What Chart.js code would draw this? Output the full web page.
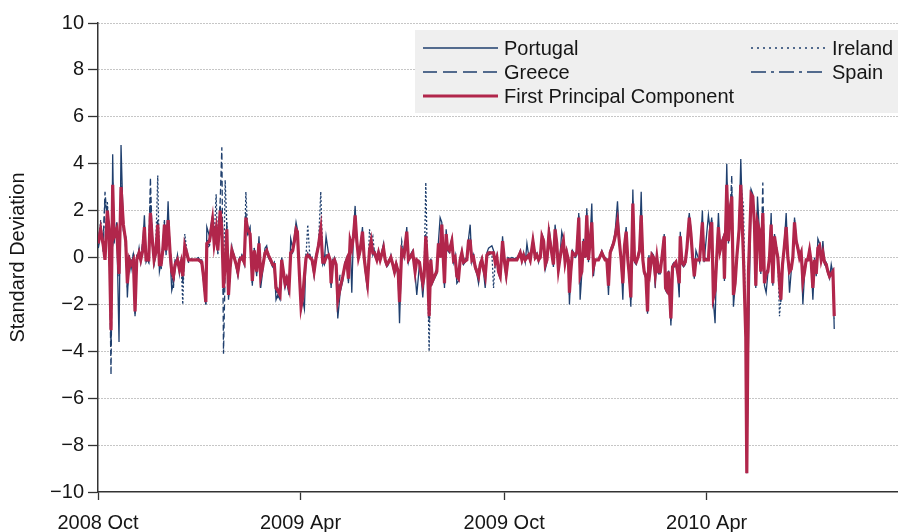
<!DOCTYPE html>
<html>
<head>
<meta charset="utf-8">
<script src="https://cdn.jsdelivr.net/npm/chart.js@4.4.1/dist/chart.umd.min.js"></script>
<style>
  html, body { margin: 0; padding: 0; background: #fff; }
  #wrap { width: 898px; height: 532px; }
</style>
</head>
<body>
<div id="wrap"><canvas id="sdChart" width="898" height="532"></canvas></div>
<script>
// days since 2008-10-01
var days = [
  0.3, 2.4, 4.8, 6.3, 8.4, 9.9, 11.7, 13.2, 14.4, 16.8,
  18.9, 20.7, 22.8, 24.9, 26.4, 28.2, 29.7, 31.8, 33.3, 34.8,
  36.9, 38.4, 40.2, 41.7, 43.2, 45.6, 47.1, 48.9, 50.4, 51.9,
  53.7, 55.2, 56.7, 58.2, 59.7, 61.2, 63.0, 64.8, 66.3, 67.8,
  69.3, 71.4, 73.2, 74.7, 76.2, 78.0, 79.8, 81.3, 85.8, 90.3,
  93.3, 94.8, 96.9, 97.8, 100.2, 102.9, 104.4, 106.2, 107.7, 109.8,
  111.3, 112.8, 114.3, 115.8, 117.3, 118.8, 120.3, 122.4, 124.2, 125.7,
  127.2, 129.3, 131.4, 132.9, 134.4, 136.7, 138.7, 140.5, 142.6, 144.7,
  146.2, 148.0, 150.1, 151.6, 153.1, 155.2, 157.0, 158.5, 160.0, 161.5,
  163.6, 165.1, 166.6, 168.1, 169.6, 171.7, 173.2, 175.0, 176.5, 178.0,
  179.2, 181.0, 182.5, 184.0, 185.5, 187.0, 188.5, 190.6, 192.4, 194.2,
  196.0, 198.1, 200.2, 202.0, 203.5, 205.0, 207.1, 208.6, 209.5, 211.0,
  212.5, 214.0, 215.5, 217.6, 220.0, 222.1, 223.6, 225.1, 226.6, 228.1,
  229.6, 231.1, 232.6, 234.1, 235.6, 237.7, 239.2, 240.7, 242.2, 244.0,
  245.5, 247.0, 248.5, 250.6, 252.1, 253.6, 256.6, 258.1, 259.6, 261.1,
  263.2, 265.0, 266.5, 268.0, 269.8, 271.0, 273.0, 275.1, 277.5, 279.0,
  280.5, 282.9, 285.0, 286.5, 288.9, 290.4, 291.9, 293.1, 294.6, 296.1,
  297.6, 299.1, 300.6, 302.4, 304.5, 306.0, 307.5, 309.0, 310.5, 311.4,
  312.9, 314.1, 315.9, 318.0, 319.5, 321.0, 322.5, 324.0, 325.5, 327.0,
  328.5, 331.5, 333.0, 334.5, 336.0, 337.5, 339.0, 340.5, 342.0, 343.5,
  345.0, 346.5, 348.0, 349.5, 351.0, 354.0, 355.5, 357.0, 358.5, 360.0,
  361.5, 363.6, 365.4, 366.9, 368.4, 372.0, 376.5, 379.5, 381.0, 382.5,
  384.0, 385.5, 387.0, 388.5, 390.9, 393.0, 394.5, 396.0, 397.5, 399.0,
  400.5, 402.0, 403.5, 405.3, 409.3, 410.8, 412.3, 413.8, 415.3, 416.8,
  418.3, 419.8, 421.3, 422.8, 423.7, 424.9, 426.4, 428.8, 430.3, 432.1,
  433.3, 434.8, 436.3, 437.8, 439.3, 440.8, 442.3, 443.8, 445.3, 446.8,
  449.8, 452.8, 455.8, 457.3, 458.8, 460.3, 461.8, 463.3, 464.8, 466.9,
  468.7, 470.2, 471.7, 473.2, 474.7, 476.2, 477.4, 478.9, 480.7, 482.2,
  483.7, 485.2, 486.7, 488.2, 489.7, 490.9, 492.4, 493.9, 495.1, 496.3,
  497.8, 499.3, 500.8, 502.3, 503.8, 505.3, 507.1, 508.9, 510.1, 511.3,
  512.8, 514.9, 516.4, 517.9, 519.4, 520.9, 522.4, 523.3, 524.8, 526.3,
  527.8, 529.3, 531.4, 532.9, 534.4, 535.9, 537.4, 540.7, 543.2, 544.7,
  548.6, 550.1, 551.6, 553.1, 554.6, 556.1, 557.6, 559.1, 560.6, 562.1,
  563.0, 565.1, 566.6, 568.1, 569.6, 571.1, 572.6, 574.1, 576.2, 577.7,
  580.1, 582.2, 583.1, 584.6, 587.0, 588.5, 590.0, 591.2, 592.7, 594.2,
  595.7, 597.5, 599.0, 600.5, 602.0, 603.5, 605.0, 606.5, 608.0, 609.5,
  611.0, 612.5, 613.7, 615.2, 616.7, 618.5, 620.0, 621.5, 623.0, 624.5,
  626.0, 627.5, 629.0, 630.5, 632.0, 633.5, 635.0, 636.5, 638.0, 639.5,
  641.0, 642.5, 644.0, 645.5, 647.0, 648.5, 650.0, 651.5, 653.0, 654.5,
  656.0, 657.5, 659.0, 660.5, 661.7
];

var firstPC = [
  0.6, 1.2, 0.5, -0.1, 2.0, 1.2, -3.1, 3.1, 0.9, 1.2,
  -0.7, 3.0, 1.4, 0.7, -1.1, -0.1, -0.3, -0.1, -2.3, -0.1,
  0.2, -0.1, 0.3, 1.3, -0.1, -0.1, 1.9, 0.7, -0.1, 0.2,
  1.4, -0.3, -0.3, 0.3, 1.4, 0.3, 1.6, 0.2, -0.6, -0.8,
  -0.3, -0.1, -0.5, -0.2, -0.8, 0.5, 0.2, -0.1, -0.1, -0.1,
  -0.2, -0.8, -1.9, 0.6, 0.7, 1.6, 0.6, 1.2, 0.3, 2.0,
  1.2, -1.3, -0.3, 1.2, -1.6, -0.4, 0.3, 0.0, -0.3, -0.6,
  -0.1, 0.0, -0.2, 1.7, 1.2, 1.0, -1.0, 0.3, -0.6, 0.6,
  -0.8, -0.4, 0.2, 0.3, 0.1, -0.1, -0.3, -0.3, -1.3, -1.4,
  -1.6, -0.1, -0.6, -1.1, -0.9, -1.3, 0.2, 0.3, 0.7, 1.2,
  1.1, -0.7, -2.1, -1.7, -0.8, 0.0, 0.1, 0.0, -0.1, -0.6,
  0.0, 0.5, 1.2, -0.2, -0.2, 0.0, 0.1, -0.1, -1.1, -0.2,
  -0.1, -0.3, -1.8, -1.3, -0.8, -0.3, -0.1, -0.9, 0.7, 0.4,
  0.9, 1.8, 0.7, 0.0, 0.3, 1.1, 0.0, -0.6, -1.1, 0.3,
  0.7, 0.2, 0.2, -0.1, 0.2, -0.1, 0.4, -0.1, -0.3, -0.2,
  0.0, -0.3, -0.6, -0.3, -0.6, -1.9, 0.3, 0.1, 1.1, -0.1,
  0.0, 0.2, -0.6, -0.1, -0.2, -0.7, -1.1, -0.8, 0.9, -0.3,
  -2.5, -0.1, -1.0, -0.8, -0.6, 0.6, 0.0, 1.4, -0.2, -1.1,
  1.0, 0.4, 0.3, 0.7, -0.1, 0.0, -0.8, -0.9, -0.1, 0.2,
  -0.2, -0.1, 0.7, 0.7, -0.1, 0.0, -0.4, -0.6, -0.8, -0.3,
  -0.1, -0.5, -0.8, 0.1, 0.2, 0.2, 0.2, -0.2, 0.0, -0.6,
  -0.8, 0.7, -0.2, -0.7, -0.1, -0.1, -0.1, 0.2, -0.1, 0.1,
  -0.1, 0.0, 0.1, -0.1, 0.7, 0.0, 0.1, -0.1, 0.0, 0.9,
  0.7, -0.3, -0.1, 1.0, -0.3, 1.2, 0.6, -0.5, 0.0, 0.4,
  0.7, -0.2, 0.2, -0.1, -1.5, -0.6, 0.2, 0.1, 0.2, 1.7,
  -0.8, -0.6, 0.7, 0.0, 1.8, -0.1, 0.7, 1.5, -0.4, -0.1,
  -0.1, 0.2, -0.1, -0.1, -1.2, 0.2, 0.4, 0.6, 0.9, 1.5,
  0.6, -0.1, -1.1, 0.5, 1.1, -0.1, -0.7, -1.7, 2.3, -0.1,
  -0.2, 0.0, 0.3, 1.8, -0.1, -0.6, -0.8, -2.3, 0.0, -0.5,
  0.1, 0.0, -0.7, 0.0, -0.6, -0.6, 0.1, 0.9, -1.3, -1.4,
  -0.6, -2.6, -0.4, -0.3, -0.2, -0.6, -1.1, 0.9, -0.2, -0.3,
  -0.2, 0.4, 1.7, 1.0, 0.0, -0.8, -0.1, -0.1, 1.5, -0.1,
  -0.1, 1.1, 1.5, -1.7, -1.4, 0.0, 1.3, 0.3, 0.6, 0.8,
  -0.9, 3.1, 0.7, 2.0, 2.6, -1.6, -1.1, 0.0, 1.2, 3.1,
  0.0, -3.4, -9.2, -0.6, 2.7, 2.6, 1.4, -1.2, 1.5, 1.2,
  -0.6, 1.9, -1.1, -0.7, -0.6, 0.0, 1.4, -1.1, 0.9, 0.4,
  0.0, -1.1, -1.8, -0.3, 0.4, 1.3, 0.0, -0.6, -0.5, 0.0,
  1.5, 0.7, 0.4, 0.0, 0.2, -1.0, -0.6, -0.1, -0.1, 0.3,
  -0.2, -1.3, -0.1, -0.7, 0.4, 0.5, -0.1, 0.2, -0.2, -0.3,
  -0.6, -0.8, -0.7, -0.6, -2.5
];

var portugal = [
  0.8, 1.4, 0.3, 0.2, 2.2, 0.9, -3.8, 4.4, 0.6, 1.5,
  -3.6, 4.8, 1.2, 0.9, -1.7, 0.1, -0.5, 0.2, -2.5, -0.3,
  0.4, -0.2, 0.5, 1.8, 0.0, -0.2, 2.1, 0.9, -0.3, 0.1,
  1.6, -0.6, -0.2, 0.5, 1.5, 0.1, 2.4, 0.0, -1.4, -1.1,
  -0.5, 0.1, -0.7, -0.1, -1.1, 0.4, 0.3, -0.1, -0.1, -0.1,
  -0.3, -1.0, -2.0, 1.3, 0.9, 1.8, 0.4, 1.4, 0.5, 2.2,
  1.4, -1.6, -0.1, 1.5, -1.8, -0.5, 0.4, 0.1, -0.4, -0.8,
  -0.2, 0.1, -0.3, 1.9, 1.0, 1.3, -1.2, 0.4, -0.8, 0.9,
  -1.3, -0.6, 0.4, 0.5, 0.0, -0.2, -0.4, -0.5, -1.8, -1.6,
  -1.8, 0.0, -0.8, -1.3, -1.0, -1.6, 0.8, 0.4, 0.9, 1.5,
  1.2, -0.9, -2.2, -1.8, -2.2, 0.1, 0.0, 0.1, -0.2, -0.8,
  0.1, 0.6, 1.4, -0.3, -0.1, 0.9, 0.2, -0.2, -1.3, -0.1,
  -0.2, -0.4, -2.6, -1.5, -1.0, -0.2, 0.0, -1.1, 0.9, -1.5,
  1.1, 2.2, 0.6, 0.1, 0.4, 1.3, -0.1, -0.8, -1.4, 0.4,
  0.8, 0.3, 0.1, -0.1, 0.3, -0.1, 0.6, -0.2, -0.4, -0.3,
  0.1, -0.4, -0.7, -0.4, -0.8, -2.8, 0.4, 0.0, 1.3, -0.2,
  0.1, 0.3, -0.7, -1.6, -0.3, -0.8, -1.7, -0.9, 1.0, -0.4,
  -2.7, -0.1, -1.1, -0.9, -0.7, 0.7, 1.7, 1.5, -0.3, -1.3,
  1.2, 0.5, 0.4, 0.8, -0.2, 0.1, -1.1, -1.0, -0.1, 0.3,
  -0.3, -0.1, 0.8, 1.4, -0.2, 0.1, -0.5, -0.7, -1.1, -0.4,
  -0.2, -0.6, -1.3, 0.2, 0.4, 0.5, 0.3, -0.3, 0.1, -0.7,
  -0.9, 0.9, -0.3, -0.9, -0.1, 0.0, -0.1, 0.3, -0.2, 0.2,
  -0.2, 0.6, 0.1, -0.2, 0.8, 0.1, 0.2, -0.2, 0.1, 1.0,
  0.8, -0.5, -0.2, 1.3, -0.4, 1.4, 0.7, -0.6, 0.1, 1.1,
  0.8, -0.3, 0.3, -0.2, -2.0, -0.7, 0.3, 0.1, 0.3, 1.9,
  -1.8, -0.7, 0.8, 0.1, 2.1, -0.2, 0.8, 2.3, -0.8, -0.1,
  -0.1, 0.3, -0.1, -0.1, -1.6, 0.3, 0.5, 0.7, 1.1, 2.4,
  0.7, -0.2, -1.8, 0.6, 1.3, -0.2, -0.8, -2.1, 2.9, -0.2,
  -0.3, 0.1, 0.4, 2.8, -0.2, -0.7, -0.9, -2.4, 0.1, -0.6,
  0.2, 0.1, -1.3, 0.1, -0.7, -0.7, 0.2, 1.0, -1.4, -1.5,
  -0.7, -2.9, -0.5, -0.4, -0.3, -0.7, -1.7, 1.1, -0.3, -0.4,
  -0.3, 0.5, 1.9, 1.2, 0.1, -0.9, 0.3, -0.2, 2.0, -0.2,
  1.8, 1.2, 1.7, -1.9, -2.8, 0.1, 1.9, 0.4, 0.7, 0.9,
  -1.0, 4.0, 0.8, 2.2, 2.8, -2.1, -1.2, 0.1, 1.3, 4.2,
  0.1, -3.5, -9.2, -3.6, 2.9, 2.7, 1.5, -1.3, 2.6, 1.3,
  -0.7, 2.1, -1.2, -1.5, -0.7, 0.1, 1.9, -1.2, 1.0, 0.5,
  0.1, -1.2, -1.9, -0.4, 0.5, 1.9, 0.1, -1.5, -0.6, 0.1,
  1.7, 0.8, 0.5, 0.1, 0.3, -2.0, -0.7, -0.2, -0.1, 0.4,
  -0.3, -1.8, -0.2, -0.8, 0.8, 0.6, -0.1, 0.7, -0.3, -0.4,
  -0.7, -0.9, -0.3, -0.7, -3.05
];

var greece = [
  0.4, 1.0, 0.8, 2.8, 1.6, 1.3, -5.0, 2.5, 1.1, 0.9,
  -0.4, 2.6, 1.6, 0.4, -0.9, -0.3, -0.1, -0.2, -2.0, 0.1,
  0.1, 0.0, 0.7, 1.1, -0.2, 0.1, 3.4, 0.5, 0.0, 0.3,
  1.2, -0.2, -0.4, 0.2, 1.6, 0.4, 1.4, 0.3, -0.5, -1.3,
  -0.2, -0.3, -0.4, -0.3, -0.6, 0.6, 0.1, -0.1, -0.1, -0.1,
  -0.1, -0.7, -1.7, 0.4, 0.5, 1.5, 0.8, 1.0, 0.2, 2.4,
  4.7, -4.1, -0.5, 1.0, -1.4, -0.3, 0.2, -0.1, -0.2, -0.5,
  0.0, -0.1, -0.1, 1.5, 1.4, 0.8, -0.9, 0.2, -0.5, 0.5,
  -0.7, -0.3, 0.1, 0.2, 0.2, -0.1, -0.2, -0.3, -1.2, -1.5,
  -1.5, -0.2, -0.5, -1.0, -0.8, -1.2, 0.1, 0.2, 0.6, 1.1,
  1.0, -0.6, -2.0, -1.6, -0.7, -0.1, 0.2, 0.0, -0.1, -0.5,
  -0.1, 0.4, 1.1, -0.1, -0.3, 0.1, 0.0, -0.1, -1.0, -0.3,
  0.0, -0.2, -1.6, -0.7, -0.7, -0.4, -0.2, -0.8, 0.6, 0.5,
  0.8, 1.7, 0.8, -0.1, 0.2, 1.0, 0.1, -0.5, -1.0, 0.2,
  0.6, 0.1, 0.3, 0.0, 0.1, 0.0, 0.3, -0.1, -0.2, -0.1,
  -0.1, -0.2, -0.5, -0.2, -0.5, -1.7, 0.7, 0.2, 1.0, 0.0,
  -0.1, 0.2, -0.5, -0.1, -0.2, -0.6, -1.0, -0.7, 0.8, -0.2,
  -2.3, 0.0, -0.9, -0.7, -0.5, 0.5, 0.2, 1.3, -0.1, -1.0,
  0.9, 0.3, 0.2, 0.6, 0.0, -0.1, -0.7, -0.8, -0.2, 0.1,
  -0.1, 0.0, 0.6, 0.6, 0.0, 0.0, -0.3, -0.5, -0.7, -0.2,
  0.0, -0.4, -0.7, 0.1, 0.1, 0.2, 0.1, -0.1, -0.1, -0.5,
  -0.7, 0.6, -0.1, -0.6, 0.0, -0.1, 0.0, 0.1, -0.1, 0.1,
  0.0, 0.0, 0.0, -0.1, 0.6, 0.0, 0.1, 0.0, 0.0, 0.8,
  0.6, -0.2, 0.0, 0.9, -0.2, 1.1, 0.5, -0.4, 0.0, 0.3,
  0.6, -0.1, 0.1, 0.0, -1.3, -0.5, 0.1, 0.0, 0.1, 1.6,
  -0.7, -0.5, 0.6, 0.0, 1.7, 0.0, 0.6, 1.4, -0.3, -0.1,
  -0.1, 0.1, 0.0, -0.1, -1.1, 0.1, 0.3, 0.5, 0.8, 1.4,
  0.5, 0.0, -1.0, 0.4, 1.0, 0.0, -0.6, -1.6, 2.2, 0.0,
  -0.1, 0.0, 0.2, 1.7, 0.0, -0.5, -0.7, -2.2, 0.0, -0.4,
  0.0, 0.0, -0.6, 0.0, -0.5, -0.5, 0.1, 0.8, -1.2, -1.3,
  -0.5, -2.4, -0.3, -0.2, -0.1, -0.5, -1.0, 0.8, -0.1, -0.2,
  -0.1, 0.3, 1.6, 0.9, 0.0, -0.7, -0.1, -0.1, 1.4, 0.0,
  -0.1, 1.0, 1.4, -1.6, -1.3, 0.0, 1.2, 0.2, 0.5, 0.7,
  -0.8, 2.9, 0.6, 1.9, 3.5, -1.5, -1.0, 0.0, 1.1, 3.0,
  -0.1, -3.3, -8.9, -0.4, 2.6, 2.5, 1.3, -1.1, 1.4, 1.1,
  -0.5, 3.2, -1.0, -0.6, -0.5, 0.0, 1.3, -1.0, 0.8, 0.3,
  -0.1, -1.0, -1.7, -0.2, 0.3, 1.2, 0.0, -0.5, -0.4, 0.0,
  1.4, 0.6, 0.3, 0.0, 0.1, -0.9, -0.5, -0.1, -0.1, 0.2,
  -0.1, -1.2, 0.0, -0.6, 0.3, 0.4, -0.1, 0.1, -0.1, -0.2,
  -0.5, -0.7, -0.6, -0.5, -2.3
];

var ireland = [
  0.5, 1.6, 0.2, 0.4, 2.4, 1.0, -2.4, 2.7, 1.2, 1.0,
  -0.8, 2.8, 1.1, 0.9, -1.0, 0.0, -0.4, 0.1, -2.2, -0.2,
  0.3, -0.1, 0.2, 1.4, -0.1, 0.0, 2.7, 0.6, -0.2, 0.4,
  3.5, -0.4, -0.1, 0.4, 1.3, 0.5, 1.7, 0.1, -0.7, -0.6,
  -0.4, 0.0, -0.6, -0.1, -2.0, 1.0, 0.3, 0.0, -0.1, -0.1,
  -0.2, -0.9, -1.8, 0.7, 0.8, 1.4, 0.7, 2.7, 0.1, 1.8,
  1.0, -1.1, 3.3, 1.3, -1.5, -0.2, 0.5, 0.0, -0.3, -0.4,
  -0.1, 0.0, -0.2, 2.8, 1.3, 1.1, -1.1, 0.3, -0.7, 0.7,
  -0.9, -0.5, 0.3, 0.4, 0.1, 0.0, -0.3, -0.2, -1.4, -1.3,
  -1.7, -0.1, -0.7, -1.2, -1.0, -1.4, 0.3, 0.4, 0.8, 1.3,
  1.1, -0.8, -2.1, -1.7, -0.9, 0.1, 1.4, -0.1, 0.0, -0.6,
  0.0, 0.5, 2.8, -0.2, -0.2, 0.0, 0.1, 0.0, -1.2, -0.2,
  -0.1, -0.3, -1.9, -1.2, -0.9, -0.3, -0.1, -1.0, 0.8, 0.3,
  1.0, 1.8, 0.7, 0.0, 0.3, 1.1, 0.0, -0.6, -1.1, 1.2,
  0.7, 0.9, 0.2, -0.1, 0.2, -0.1, 0.4, 0.0, -0.3, -0.2,
  0.0, -0.3, -0.6, -0.3, -0.6, -1.9, 0.3, 0.1, 1.1, -0.1,
  0.0, 0.2, -0.6, -0.2, -0.2, -0.7, -1.1, -0.8, 3.2, -0.3,
  -4.0, -0.2, -1.0, -0.8, -0.6, 0.6, 0.0, 1.4, -0.2, -1.1,
  1.0, 0.4, 0.3, 0.7, -0.1, 0.0, -0.8, -0.9, -0.1, 0.2,
  -0.2, -0.1, 0.7, 0.8, -0.1, 0.0, -0.4, -0.6, -0.8, -0.3,
  -0.1, -0.5, -0.8, 0.1, 0.2, 0.2, -1.3, -0.2, 0.0, -0.6,
  -0.8, 0.7, -0.2, -0.7, -0.1, -0.1, -0.1, 0.2, -0.1, 0.1,
  -0.1, 0.0, 0.1, -0.1, 0.7, 0.0, 0.1, -0.1, 0.0, 0.9,
  0.7, -0.3, -0.1, 1.0, -0.3, 1.2, 0.6, -0.5, 0.0, 0.4,
  0.7, -0.2, 0.2, -0.1, -1.5, -0.6, 0.2, 0.1, 0.2, 1.7,
  -0.8, -0.6, 0.7, 0.0, 1.8, -0.1, 0.7, 1.5, -0.4, -0.1,
  -0.1, 0.2, -0.1, -0.1, -1.2, 0.2, 0.4, 0.6, 0.9, 1.5,
  0.6, -0.1, -1.1, 0.5, 1.1, -0.1, -0.7, -1.7, 2.3, -0.1,
  -0.2, 0.0, 0.3, 1.8, -0.1, -0.6, -0.8, -2.3, 0.0, -0.5,
  0.1, 0.0, -0.7, 0.0, -0.6, -0.6, 0.1, 0.9, -1.3, -1.4,
  -0.6, -2.6, -0.4, -0.3, -0.2, -0.6, -1.1, 0.9, -0.2, -0.3,
  -0.2, 0.4, 1.7, 1.0, 0.0, -0.8, -0.1, -0.1, 1.5, -0.1,
  -0.1, 1.1, 1.5, -1.7, -1.4, 0.0, 1.3, 0.3, 0.6, 0.8,
  -0.9, 3.1, 0.7, 2.0, 2.6, -1.6, -1.1, 0.0, 1.2, 3.1,
  2.2, -3.4, -9.0, -0.4, 2.7, 2.6, 1.4, -1.2, 1.5, 1.2,
  -0.6, 1.9, -1.1, -0.7, -0.6, 0.0, 1.4, -1.1, 0.9, 0.4,
  0.0, -2.5, -1.8, -0.3, 0.4, 1.3, 0.0, -0.6, -0.5, 0.0,
  1.5, 0.7, 0.4, 0.0, 0.2, -1.0, -0.6, -0.1, -0.1, 0.3,
  -0.2, -1.3, -0.1, -0.7, 0.4, 0.5, -0.1, 0.2, -0.2, -0.3,
  -0.6, -0.8, -0.7, -0.6, -2.4
];

var spain = [
  0.9, 0.9, 0.6, 2.5, 1.8, 1.5, -2.8, 3.2, 0.7, 1.3,
  -0.5, 3.2, 1.5, 0.5, -1.3, -0.2, -0.2, -0.3, -2.4, 0.0,
  0.0, 0.1, 0.4, 1.2, 0.1, -0.2, 2.2, 0.8, -0.1, 0.2,
  1.3, -0.1, -0.5, 0.1, 1.2, 0.2, 1.9, 0.4, -0.8, -0.9,
  -0.1, -0.2, -0.3, -0.3, -0.9, 0.3, 0.2, -0.2, -0.1, 0.0,
  -0.3, -0.6, -2.0, 0.5, 0.6, 1.7, 0.5, 1.1, 0.4, 1.9,
  1.3, -1.4, -0.2, 1.1, -1.7, -0.6, 0.2, 0.1, -0.4, -0.7,
  -0.1, 0.1, -0.2, 1.6, 1.1, 0.9, -0.8, 0.4, -0.5, 0.6,
  -0.8, -0.4, 0.2, 0.3, 0.1, -0.1, -0.3, -0.4, -1.3, -1.7,
  -1.6, 0.0, -0.6, -1.1, -0.9, -1.3, 0.2, 0.3, 0.7, 1.2,
  1.0, -0.7, -1.9, -1.5, -0.8, 0.0, 0.1, 0.0, -0.2, -0.7,
  0.1, 0.5, 1.2, -0.2, -0.2, 0.1, 0.1, -0.1, -1.1, -0.2,
  -0.1, -0.3, -1.7, -1.3, -0.8, -0.2, -0.1, -0.9, 0.7, 0.4,
  0.9, 1.9, 0.6, 0.0, 0.3, 1.1, 0.0, -0.7, -1.2, 0.3,
  0.7, 0.2, 0.2, -0.1, 0.2, -0.1, 0.5, -0.1, -0.3, -0.2,
  0.0, -0.3, -0.6, -0.3, -0.7, -2.0, 0.2, 0.1, 1.0, -0.1,
  0.0, 0.1, -0.6, -0.1, -0.2, -0.7, -1.2, -0.8, 0.9, -0.3,
  -2.4, -0.1, -1.0, -0.8, -0.6, 0.6, 0.1, 1.4, -0.2, -1.2,
  1.0, 0.4, 0.3, 0.7, -0.1, 0.0, -0.9, -0.9, -0.1, 0.2,
  -0.2, -0.1, 0.7, 0.7, -0.1, 0.0, -0.4, -0.6, -0.9, -0.3,
  -0.1, -0.5, -0.8, 0.1, 0.2, 0.3, 0.2, -0.2, 0.0, -0.6,
  -0.8, 0.7, -0.2, -0.7, -0.1, -0.1, -0.1, 0.2, 0.0, 0.1,
  -0.1, 0.1, 0.1, -0.1, 0.7, 0.0, 0.1, -0.1, 0.0, 0.9,
  0.7, -0.3, -0.1, 1.1, -0.3, 1.2, 0.6, -0.5, 0.0, 0.5,
  0.7, -0.2, 0.2, -0.1, -1.6, -0.6, 0.2, 0.1, 0.2, 1.8,
  -0.9, -0.6, 0.7, 0.0, 1.9, -0.1, 0.7, 1.6, -0.5, -0.1,
  -0.1, 0.2, -0.1, -0.1, -1.3, 0.2, 0.4, 0.6, 0.9, 1.6,
  0.6, -0.1, -1.2, 0.5, 1.2, -0.1, -0.7, -1.8, 2.4, -0.1,
  -0.2, 0.0, 0.3, 1.9, -0.1, -0.6, -0.8, -2.3, 0.0, -0.5,
  0.1, 0.0, -0.8, 0.0, -0.6, -0.6, 0.1, 0.9, -1.3, -1.4,
  -0.6, -2.7, -0.4, -0.3, -0.2, -0.6, -1.2, 0.9, -0.2, -0.3,
  -0.2, 0.4, 1.8, 1.0, 0.0, -0.8, -0.1, -0.1, 1.6, -0.1,
  0.0, 1.1, 1.6, -1.8, -1.5, 0.0, 1.4, 0.3, 0.6, 0.8,
  -0.9, 3.2, 0.7, 2.1, 2.7, -1.7, -1.1, 0.0, 1.2, 3.2,
  0.0, -3.5, -9.1, -0.6, 2.8, 2.6, 1.4, -1.2, 1.6, 1.2,
  -0.6, 2.0, -1.1, -0.7, -0.6, 0.0, 1.5, -1.1, 0.9, 0.4,
  0.0, -1.1, -1.8, -0.3, 0.4, 1.4, 0.0, -0.6, -0.5, 0.0,
  1.6, 0.7, 0.4, 0.0, 0.2, -1.1, -0.6, -0.1, -0.1, 0.3,
  -0.2, -1.4, -0.1, -0.7, 0.4, 0.5, -0.1, 0.2, -0.2, -0.3,
  -0.6, -0.8, -0.7, -0.6, -2.6
];

var tickDays = [0, 182, 365, 547];
var tickLabels = ['2008 Oct', '2009 Apr', '2009 Oct', '2010 Apr'];

var FONT = '"Liberation Sans", Arial, Helvetica, sans-serif';
var BLUE = '#1f3f6e';
var RED = '#b1264b';
var INK = '#161616';

function pts(vals) {
  return days.map(function (d, i) { return { x: d, y: vals[i] }; });
}

function lineSet(label, vals, color, width, dash, order) {
  return {
    label: label,
    data: pts(vals),
    borderColor: color,
    borderWidth: width,
    borderDash: dash,
    pointRadius: 0,
    fill: false,
    tension: 0,
    order: order
  };
}

// legend drawn in a grey box, two columns, like the original
var legendBox = {
  id: 'legendBox',
  afterDraw: function (chart) {
    var ctx = chart.ctx;
    var items = [
      { i: 1, x: 423, y: 48 },
      { i: 2, x: 423, y: 72 },
      { i: 0, x: 423, y: 96 },
      { i: 3, x: 751, y: 48 },
      { i: 4, x: 751, y: 72 }
    ];
    ctx.save();
    ctx.fillStyle = '#efefef';
    ctx.fillRect(415, 30, 483, 83);
    ctx.font = '20px ' + FONT;
    ctx.textBaseline = 'middle';
    ctx.textAlign = 'left';
    items.forEach(function (it) {
      var ds = chart.data.datasets[it.i];
      ctx.beginPath();
      ctx.strokeStyle = ds.borderColor;
      ctx.lineWidth = ds.borderWidth;
      ctx.setLineDash(ds.legendDash || ds.borderDash || []);
      ctx.moveTo(it.x, it.y);
      ctx.lineTo(it.x + 75, it.y);
      ctx.stroke();
      ctx.setLineDash([]);
      ctx.fillStyle = INK;
      ctx.fillText(ds.label, it.x + 81, it.y + 1);
    });
    ctx.restore();
  }
};

var datasets = [
  lineSet('First Principal Component', firstPC, RED, 3.2, [], 0),
  lineSet('Portugal', portugal, BLUE, 1.3, [], 1),
  lineSet('Greece', greece, BLUE, 1.3, [6, 3], 1),
  lineSet('Ireland', ireland, BLUE, 1.3, [2, 2], 1),
  lineSet('Spain', spain, BLUE, 1.3, [7, 3, 2, 3], 1)
];
datasets[2].legendDash = [14, 6];
datasets[3].legendDash = [2, 4];
datasets[4].legendDash = [15, 5, 3, 5];

var ctx = document.getElementById('sdChart').getContext('2d');
var chart = new Chart(ctx, {
  type: 'line',
  data: { datasets: datasets },
  options: {
    responsive: false,
    animation: false,
    devicePixelRatio: 1,
    layout: { padding: { top: 23, right: 0, bottom: 0, left: 0 } },
    plugins: {
      legend: { display: false },
      tooltip: { enabled: false }
    },
    scales: {
      x: {
        type: 'linear',
        position: 'bottom',
        min: 0,
        max: 719,
        grid: { drawOnChartArea: false, drawTicks: true, tickLength: 8, tickColor: '#333', tickWidth: 1.3 },
        border: { color: '#333', width: 1.5 },
        ticks: {
          font: { family: FONT, size: 20 },
          color: INK,
          padding: 11,
          maxRotation: 0,
          autoSkip: false,
          callback: function (value) {
            var k = tickDays.indexOf(value);
            return k >= 0 ? tickLabels[k] : '';
          }
        },
        afterBuildTicks: function (scale) {
          scale.ticks = tickDays.map(function (v) { return { value: v }; });
        },
        afterFit: function (scale) { scale.height = 40; }
      },
      y: {
        min: -10,
        max: 10,
        grid: {
          color: function (c) { return c.tick && c.tick.value === -10 ? 'rgba(0,0,0,0)' : '#8c8c8c'; },
          lineWidth: 1,
          tickLength: 10,
          tickColor: '#333',
          tickWidth: 1.3,
          tickBorderDash: []
        },
        border: { color: '#333', width: 1.5, dash: [1, 2] },
        ticks: {
          stepSize: 2,
          font: { family: FONT, size: 20 },
          color: INK,
          padding: 4,
          callback: function (value) {
            return value < 0 ? '\u2212' + Math.abs(value) : String(value);
          }
        },
        title: {
          display: true,
          text: 'Standard Deviation',
          font: { family: FONT, size: 20 },
          color: INK,
          padding: { top: 6, bottom: 0 }
        },
        afterFit: function (scale) { scale.width = 98; }
      }
    }
  },
  plugins: [legendBox]
});
</script>
</body>
</html>
